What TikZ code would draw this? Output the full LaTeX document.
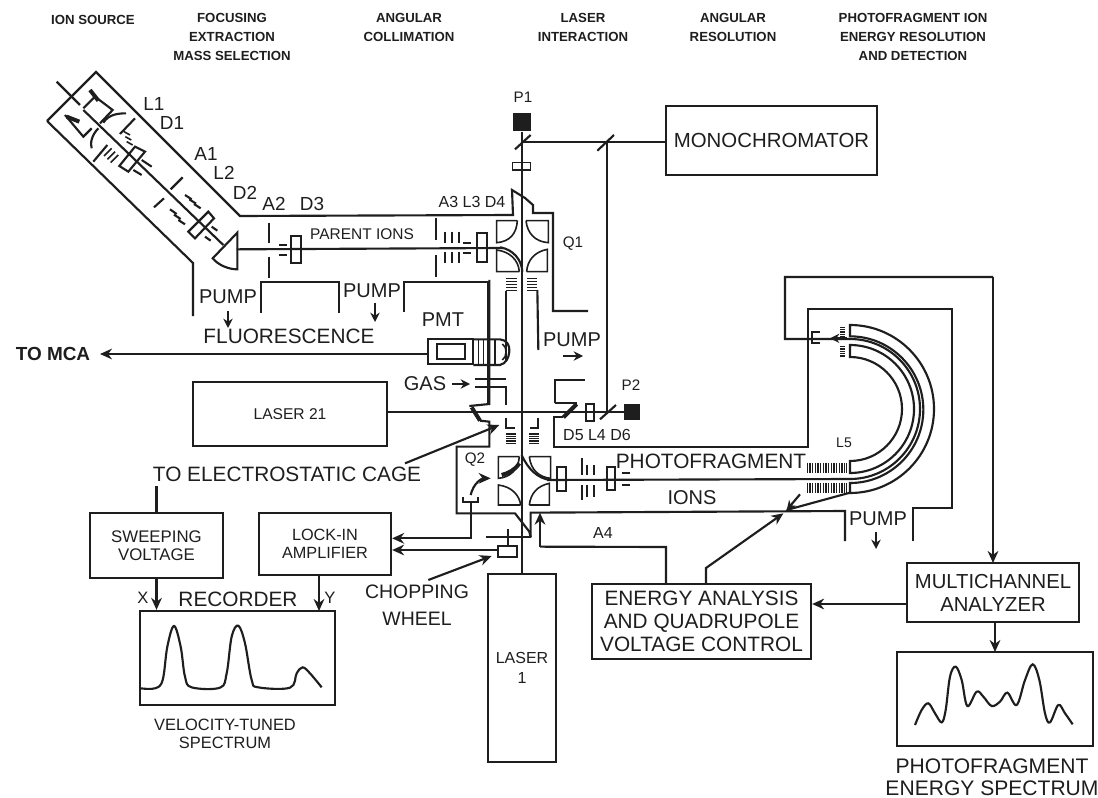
\documentclass[tikz,border=0pt]{standalone}
\usepackage{fontspec}
\setmainfont{Liberation Sans}
\usetikzlibrary{arrows.meta}
\definecolor{ink}{HTML}{1E1E1E}
\newcommand{\bxnode}[7]{\pgfmathsetmacro\bw{(#4-#2)*0.75}\pgfmathsetmacro\bh{(#5-#3)*0.75}\node[boxn,minimum width=\bw pt,minimum height=\bh pt,font=#6] (#1) at ({(#2+#4)/2},{(#3+#5)/2}) {#7};}
\tikzset{
  x=0.75pt,y=-0.75pt,
  ln/.style={draw=ink,line width=1.6pt,line join=miter},
  thn/.style={draw=ink,line width=1.2pt},
  hvy/.style={draw=ink,line width=3pt},
  arr/.style={ln,-{Stealth[length=9pt,width=8pt]}},
  sarr/.style={ln,-{Stealth[length=7pt,width=7pt]}},
  boxn/.style={draw=ink,line width=1.7pt,inner sep=0pt,align=center,text=ink},
  zm/.style 2 args={shift={(#1,#2)},x=0.25pt,y=-0.25pt},
  lab/.style={text=ink,inner sep=0pt,align=center},
  ta/.style={lab,font=\fontsize{9.9pt}{14.2pt}\selectfont\bfseries},
  tb/.style={lab,font=\fontsize{15pt}{17pt}\selectfont},
  tc/.style={lab,font=\fontsize{15.6pt}{17.3pt}\selectfont},
  td/.style={lab,font=\fontsize{11.6pt}{13.5pt}\selectfont},
  te/.style={lab,font=\fontsize{14.2pt}{15pt}\selectfont},
  tf/.style={lab,font=\fontsize{14.4pt}{20pt}\selectfont},
  tg/.style={lab,font=\fontsize{11.4pt}{12pt}\selectfont},
}
\begin{document}
\begin{tikzpicture}
\useasboundingbox[fill=white] (0,0) rectangle (1098,798);
% headers
\node[ta] (h1) at (93,20) {ION SOURCE};
\node[ta,anchor=north] (h2) at (232,13) {FOCUSING\\EXTRACTION\\MASS SELECTION};
\node[ta,anchor=north] (h3) at (409,13) {ANGULAR\\COLLIMATION};
\node[ta,anchor=north] (h4) at (583,13) {LASER\\INTERACTION};
\node[ta,anchor=north] (h5) at (733,13) {ANGULAR\\RESOLUTION};
\node[ta,anchor=north] (h6) at (913,13) {PHOTOFRAGMENT ION\\ENERGY RESOLUTION\\AND DETECTION};
% boxes
\bxnode{mono}{666}{106}{877}{175}{\fontsize{15.3pt}{17pt}\selectfont}{MONOCHROMATOR}
\bxnode{laserb}{193}{382}{387}{446}{\fontsize{11.7pt}{13pt}\selectfont}{LASER 21}
\bxnode{sweep}{90}{513}{223}{578}{\fontsize{12.6pt}{13.6pt}\selectfont}{SWEEPING\\VOLTAGE}
\bxnode{lockin}{259}{513}{391}{575}{\fontsize{12.2pt}{13.6pt}\selectfont}{LOCK-IN\\AMPLIFIER}
\bxnode{rec}{140}{611}{335}{705}{\normalsize}{}
\bxnode{lasera}{488}{574}{556}{762}{\fontsize{12pt}{14.4pt}\selectfont}{LASER\\1}
\bxnode{energy}{592}{584}{811}{659}{\fontsize{15.6pt}{17.3pt}\selectfont}{ENERGY ANALYSIS\\AND QUADRUPOLE\\VOLTAGE CONTROL}
\bxnode{multi}{907}{563}{1079}{622}{\fontsize{15.2pt}{17.3pt}\selectfont}{MULTICHANNEL\\ANALYZER}
\bxnode{spec}{897}{652}{1093}{746}{\normalsize}{}
% detector squares
\node[fill=ink,inner sep=0pt,minimum width=13.5pt,minimum height=14pt] (p1s) at (522,122) {};
\node[fill=ink,inner sep=0pt,minimum width=12pt,minimum height=12pt] (p2s) at (632,412) {};
\node[tg] (p1t) at (523,97) {P1};
\node[tg] (p2t) at (631,385) {P2};
% main beams
\coordinate (mirA) at (522,142);
\coordinate (mirB) at (607,142);
\coordinate (las) at (387,412);
\draw[ln] (p1s.south) -- (lasera.north);
\draw[ln] (mirA) -- (mono.west |- mirA);
\draw[ln] (mirB) -- (607,412);
\draw[ln] (laserb.east |- las) -- (p2s.west |- las);
% source tube walls
\draw[ln] (47,121)--(96,72)--(240,216)--(513,215)--(512,190)--(525,198)--(533,205)--(533,213)--(553,213)--(553,311)--(588,311);
\draw[ln] (47,121)--(193,263)--(193,316);
\draw[ln] (261,313)--(261,282)--(339,282)--(339,313);
\draw[ln] (404,312)--(404,282)--(488,282)--(488,403);
% mirrors on the P1 line
\begin{scope}[zm={400}{90}]
\draw[ln] (345,178)--(392,135);
\draw[ln] (592,182)--(642,135);
\draw[thn] (338,218) rectangle (392,240);
% Q1
\draw[thn] (352,392)--(290,392)--(290,458) .. controls (330,455) and (350,430) .. (352,392);
\draw[thn] (378,392)--(445,392)--(445,458) .. controls (405,455) and (382,430) .. (378,392);
\draw[thn] (358,545)--(290,545)--(290,480) .. controls (330,485) and (355,510) .. (358,545);
\draw[thn] (380,545)--(442,545)--(442,478) .. controls (405,485) and (382,510) .. (380,545);
\draw[ln] (300,472) .. controls (340,478) and (365,510) .. (367,545);
% A3 L3 D4 optics
\draw[ln] (108,385)--(108,450) (108,495)--(108,560);
\draw[ln] (135,425)--(135,460) (157,425)--(157,460) (178,425)--(178,460);
\draw[ln] (135,485)--(135,518) (157,485)--(157,518) (178,485)--(178,518);
\draw[ln] (190,458)--(212,458) (190,488)--(212,488);
\draw[ln] (232,428) rectangle (262,515);
% grids below Q1
\foreach \yy in {566,575,584,593,602}{\draw[thn] (318,\yy)--(352,\yy) (382,\yy)--(412,\yy);}
\draw[ln] (318,602)--(318,780);
\draw[ln] (412,600)--(415,780);
\end{scope}
% prism and axis
\begin{scope}[zm={140}{170}]
\draw[ln] (292,188)--(218,265) .. controls (235,285) and (265,298) .. (292,298)--cycle;
\draw[ln] (128,22)--(92,58) (72,85)--(42,112);
\draw[ln] (135,75)--(155,88) (148,88)--(168,101) (162,102)--(182,115);
\draw[ln] (90,118)--(110,132) (102,134)--(122,147) (115,150)--(135,163);
\draw[ln] (205,125)--(222,145)--(165,205)--(145,185)--cycle;
\draw[ln] (215,170)--(232,182) (195,200)--(212,212);
\end{scope}
\begin{scope}[zm={20}{80}]
\coordinate (pb) at (650,508);
\draw[ln] (190,90)--(610,495);
\draw[ln] (110,5)--(180,75);
\draw[ln] (190,85)--(225,50)--(278,90)--(240,130);
\draw[ln] (135,105)--(190,170)--(215,145);
\draw[hvy] (210,30)--(235,62);
\draw[hvy] (140,110)--(178,125);
\draw[ln] (345,115)--(300,162) (220,245)--(262,195);
\draw[ln] (250,128) .. controls (265,105) and (290,100) .. (318,100);
\draw[ln] (215,205) .. controls (210,190) and (215,165) .. (235,145);
\draw[thn] (312,155)--(330,165) (316,170)--(334,180) (320,185)--(338,195);
\draw[thn] (252,228)--(275,205) (262,238)--(285,215) (272,248)--(295,225);
\draw[ln] (345,200)--(375,215)--(325,275)--(298,258)--cycle;
\draw[ln] (365,240)--(395,260) (340,270)--(365,285);
\draw[ln] (748,428)--(748,490) (748,530)--(748,595);
\draw[ln] (778,495)--(800,495) (778,525)--(800,525);
\draw[ln] (812,467) rectangle (842,548);
\end{scope}
% interaction region
\begin{scope}[zm={400}{330}]
\draw[ln] (85,28) rectangle (220,102);
\draw[ln] (110,42) rectangle (195,88);
\draw[thn] (235,28)--(235,105) (250,28)--(250,105) (285,28)--(285,105);
\draw[ln] (220,28)--(300,28) .. controls (320,30) and (330,45) .. (328,65) .. controls (326,85) and (318,100) .. (300,105)--(220,105);
\draw[thn] (307,42) .. controls (322,50) and (322,80) .. (307,90);
\draw[ln] (268,-150)--(268,222)--(208,228);
\draw[ln] (318,-20)--(318,95);
\draw[ln] (225,148)--(318,148);
\draw[ln] (225,172)--(318,172)--(318,225);
\draw[hvy] (215,232)--(240,272);
\draw[ln] (240,272)--(268,275)--(268,350)--(170,350)--(170,550)--(345,550)--(388,605)--(392,622);
\draw[ln] (465,220)--(465,150)--(555,150);
\draw[ln] (465,220)--(530,220);
\draw[hvy] (530,222)--(490,262);
\draw[ln] (490,262)--(462,262)--(462,350)--(1224,350)--(1224,-66);
\draw[ln] (318,265)--(318,295)--(345,295);
\draw[ln] (415,265)--(415,295)--(390,295);
\foreach \yy in {312,319,326,333,340}{\draw[thn] (318,\yy)--(348,\yy) (388,\yy)--(418,\yy);}
% Q2
\draw[thn] (358,380)--(295,380)--(295,445) .. controls (330,442) and (355,420) .. (358,380);
\draw[thn] (388,380)--(452,380)--(452,445) .. controls (418,442) and (392,420) .. (388,380);
\draw[thn] (362,525)--(295,525)--(295,465) .. controls (335,470) and (358,495) .. (362,525);
\draw[thn] (388,525)--(448,525)--(448,460) .. controls (412,468) and (392,490) .. (388,525);
\draw[ln] (365,375) .. controls (385,420) and (415,445) .. (450,450);
\draw[hvy] (305,435) .. controls (325,430) and (345,420) .. (358,400);
\draw[ln] (190,500)--(190,517)--(235,517)--(235,500);
\draw[arr] (212,495) .. controls (220,460) and (245,445) .. (272,445);
\draw[ln] (470,410) rectangle (497,482);
\draw[ln] (545,385)--(545,435) (545,465)--(545,510);
\draw[ln] (560,405)--(560,435) (582,405)--(582,435);
\draw[ln] (560,465)--(560,500) (582,465)--(582,500);
\draw[ln] (620,410) rectangle (645,480);
\draw[ln] (665,430)--(690,430) (665,465)--(690,465);
\draw[ln] (392,622)--(392,548)--(1335,543)--(1335,633);
\draw[ln] (258,622)--(392,622);
\draw[ln] (325,598)--(325,650);
\draw[ln] (295,648) rectangle (350,680);
% P2 optics
\draw[ln] (558,222) rectangle (582,272);
\draw[ln] (600,268)--(648,225);
\coordinate (toQ) at (298,285);
\coordinate (cageS) at (15,400);
\coordinate (cupW) at (212,517);
\coordinate (cupL) at (212,625);
\coordinate (wheel) at (295,660);
\coordinate (wheelA) at (275,678);
\coordinate (wheelS) at (85,750);
\coordinate (a4up) at (420,548);
\coordinate (a4c) at (420,650);
\end{scope}
\coordinate (beamEnd) at (850,479);
\draw[ln] (pb)--(503,248);
% to MCA
\node[lab,font=\fontsize{14.2pt}{16pt}\selectfont\bfseries] (mca) at (53,354) {TO MCA};
\coordinate (pmtW) at (428,354);
\draw[arr] (pmtW) -- (100,354);
% beam through Q2 to analyzer
\draw[ln] (547,480) -- (beamEnd) arc[start angle=-90,end angle=90,radius=52.5pt] -- (785,339)--(785,277)--(993,277);
\draw[arr] (993,277) -- (993,563);
% analyzer shells
\draw[ln] (850,325) arc[start angle=90,end angle=-90,radius=63pt] -- (850,483) arc[start angle=-90,end angle=90,radius=55pt] -- cycle;
\draw[ln] (850,345) arc[start angle=90,end angle=-90,radius=48pt] -- (850,461) arc[start angle=-90,end angle=90,radius=39pt] -- cycle;
\begin{scope}[zm={640}{260}]
\foreach \xx in {502,510,518,526,534,542,550,558,566,574,582,590,598,606,614,620}{\draw[thn] (\xx,608)--(\xx,640) (\xx,668)--(\xx,698);}
\draw[ln] (540,215)--(515,215)--(515,250)--(540,250);
\draw[sarr] (620,235)--(570,235);
\foreach \yy in {202,209,216,223,230,260,267,274,281,288}{\draw[thn] (600,\yy)--(615,\yy);}
\coordinate (shellB) at (630,698);
\coordinate (joint) at (440,750);
\coordinate (tick) at (480,703);
\coordinate (enArr) at (430,760);
\draw[ln] (shellB) -- (joint);
\draw[sarr] (tick) -- (joint);
\end{scope}
% chamber right side
\draw[ln] (808,309)--(952,309)--(952,508)--(913,508)--(913,541);
% connectors from boxes
\draw[ln] (sweep.north) -- ++(0,-26) coordinate (cageup);
\draw[arr] (sweep.south) -- (rec.north -| sweep.south);
\coordinate (ylock) at (319,575);
\draw[arr] (ylock) -- (319,611);
\draw[arr] (cupW) -- (cupL) -- (lockin.east |- cupL);
\draw[arr] (wheel) -- (lockin.east |- wheel);
\draw[arr] (wheelS) -- (wheelA);
\draw[arr] (cageS) -- (toQ);
\coordinate (en1) at (666,584);
\draw[ln] (en1) -- (666,547) -- (a4c);
\draw[arr] (a4c) -- (a4up);
\draw[arr] (706,584) -- (706,568) -- (enArr);
\draw[arr] (multi.west |- 0,604) -- (energy.east |- 0,604);
\draw[arr] (995,622) -- (995,652);
% pump arrows
\draw[sarr] (228,311) -- (228,328);
\draw[sarr] (375,303) -- (375,322);
\draw[sarr] (876,532) -- (876,549);
\draw[sarr] (563,356) -- (583,356);
\draw[sarr] (452,384) -- (470,384);
% labels
\node[te] (l1) at (154,104) {L1};
\node[te] (d1) at (172,123) {D1};
\node[te] (a1) at (206,154) {A1};
\node[te] (l2) at (224,173) {L2};
\node[te] (d2) at (245,193) {D2};
\node[te] (a2) at (274,204) {A2};
\node[te] (d3) at (312,204) {D3};
\node[td] (par) at (362,234) {PARENT IONS};
\node[td,font=\fontsize{12pt}{12pt}\selectfont] (a3) at (472,202) {A3 L3 D4};
\node[tg] (q1) at (573,244) {Q1};
\node[tb] (pu1) at (228,297) {PUMP};
\node[tb] (pu2) at (372,291) {PUMP};
\node[tb] (pu3) at (572,340) {PUMP};
\node[tb] (pu4) at (878,519) {PUMP};
\node[tc] (fl) at (289,336) {FLUORESCENCE};
\node[tb] (pmt) at (443,320) {PMT};
\node[lab,font=\fontsize{15pt}{15pt}\selectfont] (gas) at (425,384) {GAS};
\node[td,font=\fontsize{12pt}{12pt}\selectfont] (dd) at (597,435) {D5 L4 D6};
\node[tc] (cage) at (287,474) {TO ELECTROSTATIC CAGE};
\node[tg] (q2) at (475,460) {Q2};
\node[tc] (pho) at (711,461) {PHOTOFRAGMENT};
\node[tb] (ions) at (692,498) {IONS};
\node[lab,font=\fontsize{10.5pt}{12pt}\selectfont] (l5) at (844,443) {L5};
\node[lab,font=\fontsize{12pt}{12pt}\selectfont] (a4) at (603,533) {A4};
\node[lab,font=\fontsize{12.4pt}{14pt}\selectfont] (xl) at (143,598) {X};
\node[lab,font=\fontsize{12.4pt}{14pt}\selectfont] (yl) at (330,598) {Y};
\node[tc] (recl) at (238,599) {RECORDER};
\node[lab,font=\fontsize{12.3pt}{14pt}\selectfont] (vel) at (225,734) {VELOCITY-TUNED\\SPECTRUM};
\node[lab,font=\fontsize{14.6pt}{20pt}\selectfont] (chop) at (417,605) {CHOPPING\\WHEEL};
\node[lab,font=\fontsize{15.8pt}{16.6pt}\selectfont] (phs) at (992,777) {PHOTOFRAGMENT\\ENERGY SPECTRUM};
% spectra
\begin{scope}[zm={80}{460}]
\draw[ln] plot[smooth,tension=0.6] coordinates {(182,685)(225,685)(248,660)(262,560)(282,498)(302,560)(315,650)(335,682)(420,683)(440,640)(455,530)(475,497)(495,550)(515,660)(535,682)(630,683)(650,640)(668,622)(690,640)(725,682)};
\end{scope}
\begin{scope}[zm={780}{480}]
\draw[ln] plot[smooth,tension=0.6] coordinates {(405,735)(425,690)(445,670)(465,700)(485,727)(497,690)(510,590)(527,560)(545,600)(562,678)(590,635)(610,650)(635,678)(660,665)(682,638)(710,675)(735,600)(758,553)(778,600)(795,700)(810,727)(835,675)(855,700)(878,733)};
\end{scope}
\end{tikzpicture}
\end{document}
